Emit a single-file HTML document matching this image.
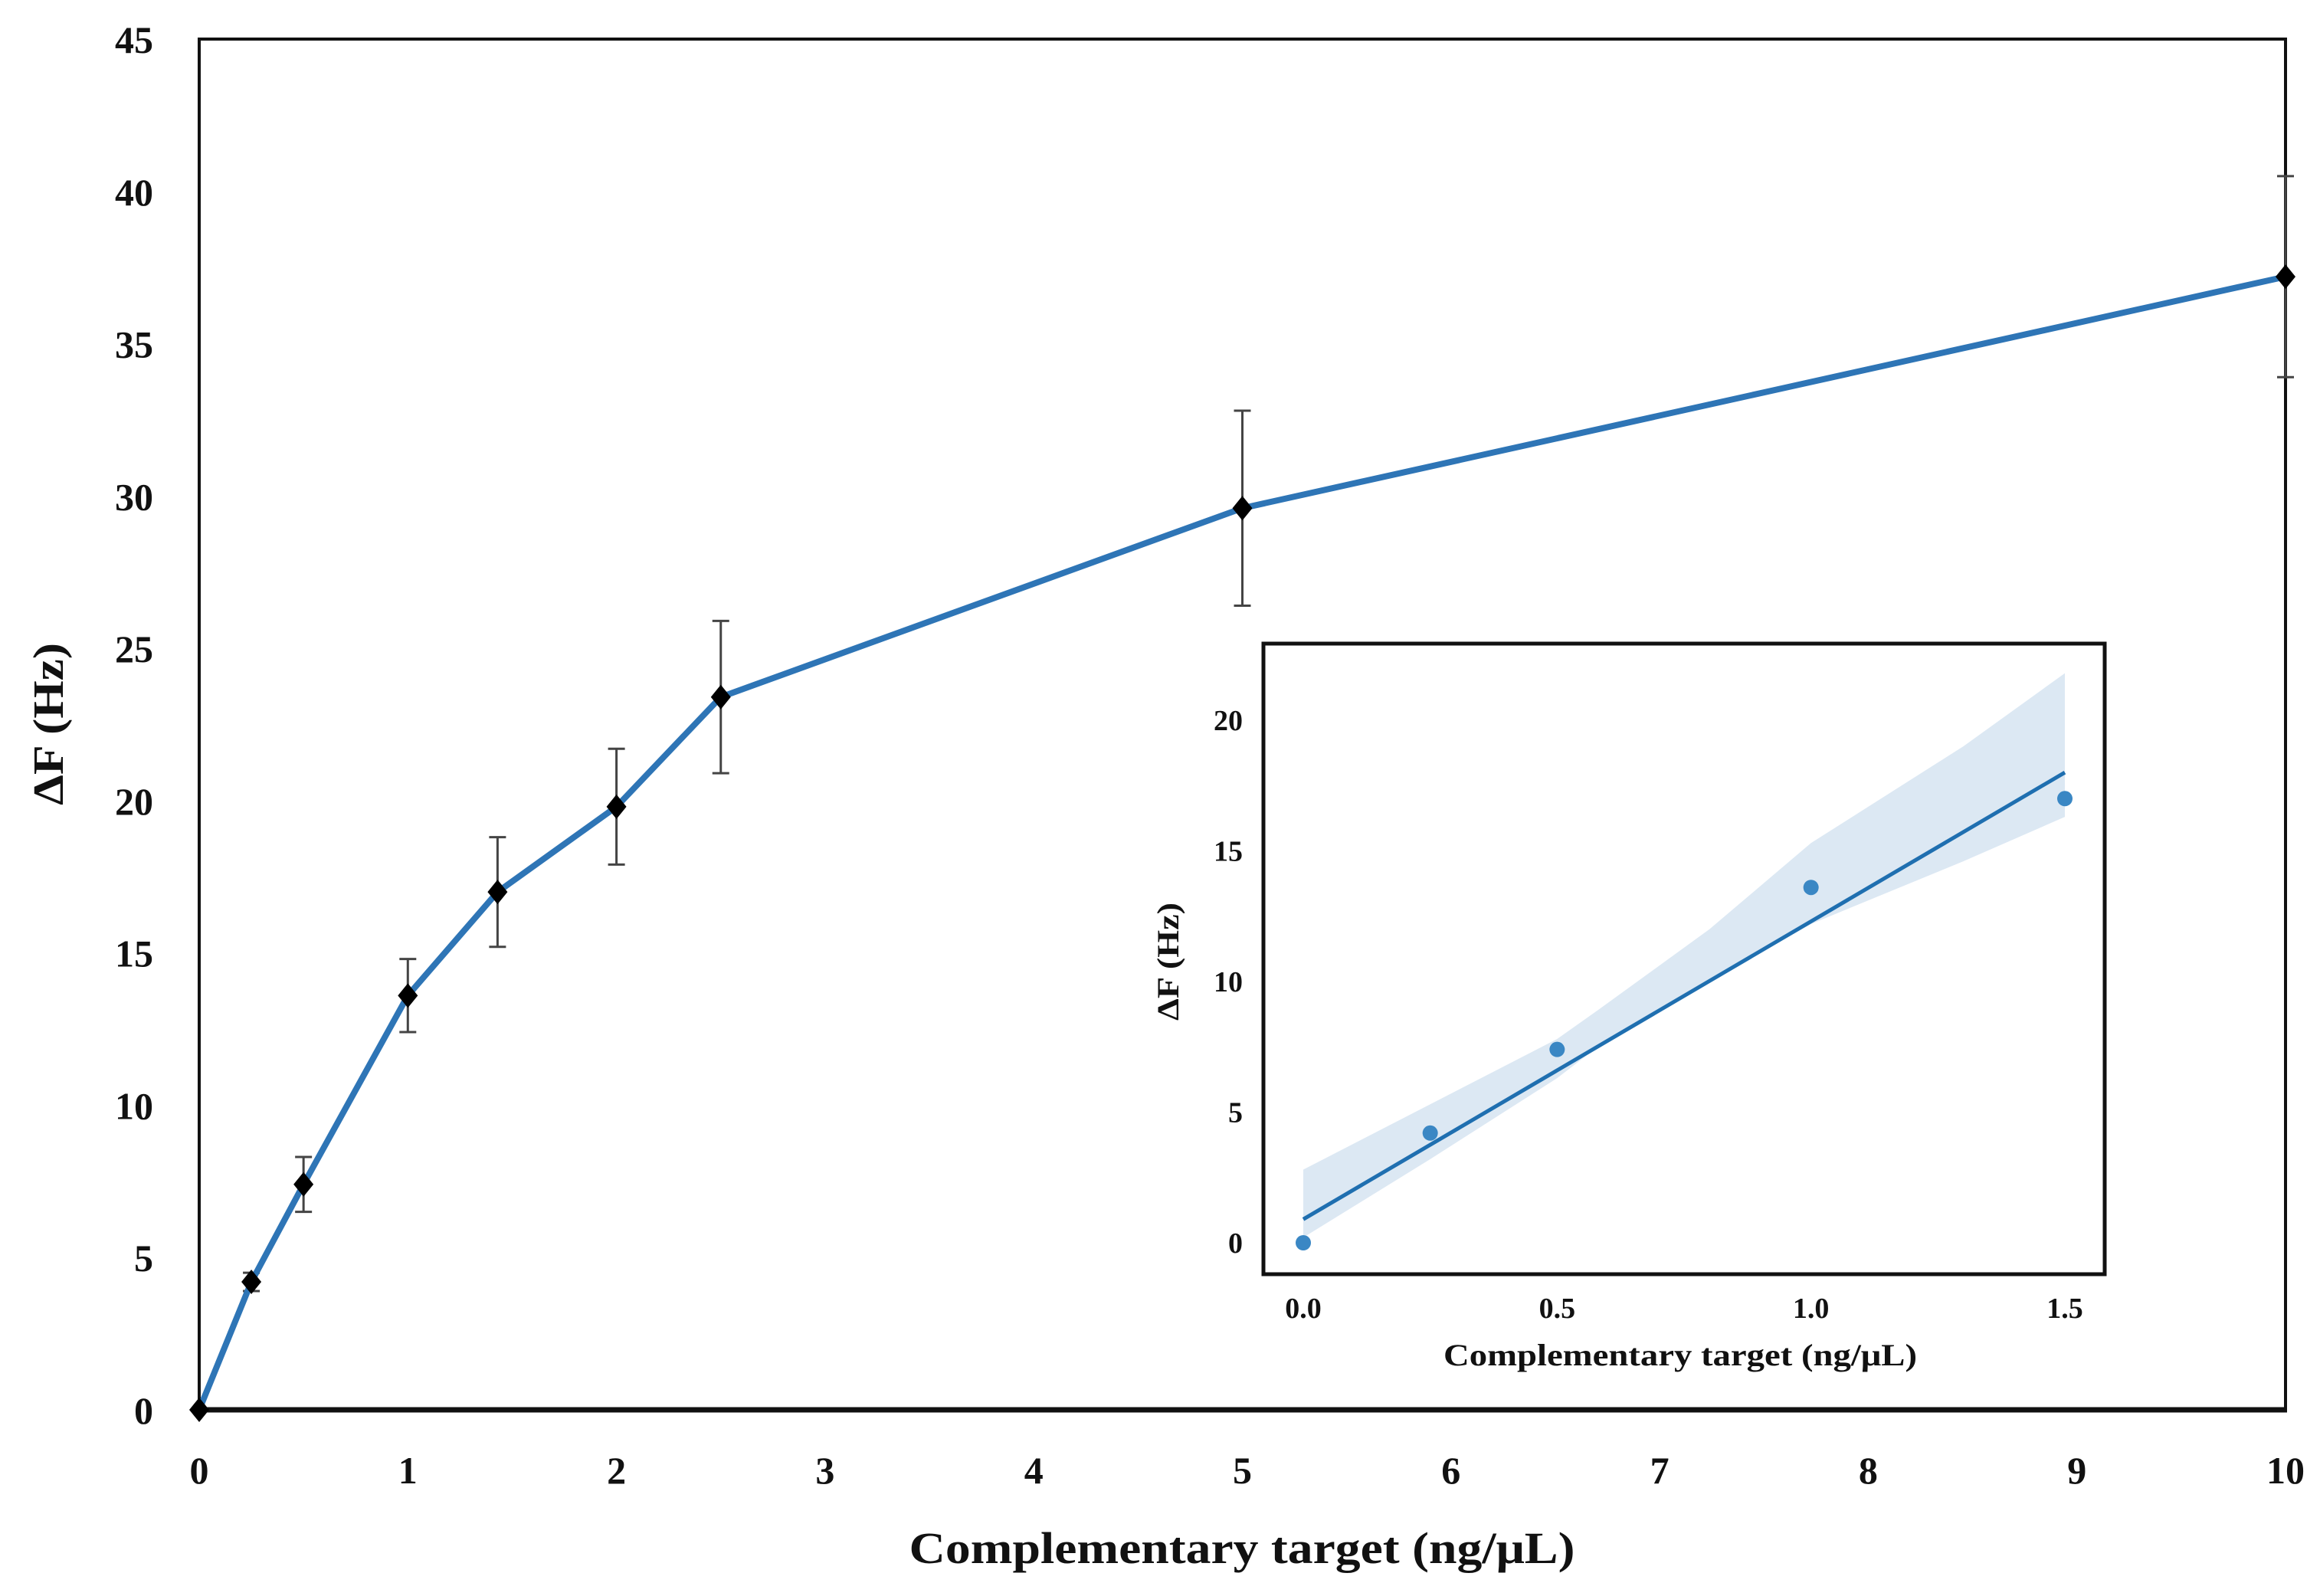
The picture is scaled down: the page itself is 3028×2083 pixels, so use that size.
<!DOCTYPE html>
<html><head><meta charset="utf-8"><style>
html,body{margin:0;padding:0;background:#fff}
svg{display:block}
text{font-family:"Liberation Serif",serif;font-weight:bold;fill:#111}
</style></head><body>
<svg id="c" width="3028" height="2083" viewBox="0 0 3028 2083" xmlns="http://www.w3.org/2000/svg"></svg>
<script>
const mainX=[0,0.25,0.5,1,1.43,2,2.5,5,10];
const mainY=[0,4.2,7.4,13.6,17.0,19.8,23.4,29.6,37.2];
const mainErr=[0,0.3,0.9,1.2,1.8,1.9,2.5,3.2,3.3];
const xTicks=[0,1,2,3,4,5,6,7,8,9,10];
const yTicks=[0,5,10,15,20,25,30,35,40,45];
const insX=[0,0.25,0.5,1.0,1.5];
const insY=[0,4.2,7.4,13.6,17.0];
const fitX=[0,1.5];
const fitY=[0.9,18.0];
const bandX=[0,0.25,0.5,0.58,0.8,1.0,1.3,1.5];
const bandHi=[2.8,5.3,7.8,8.9,12.0,15.3,19.0,21.8];
const bandLo=[0.2,3.2,6.3,7.5,10.0,12.2,14.6,16.3];
const insXTicks=[0,0.5,1.0,1.5];
const insXTickLabels=["0.0","0.5","1.0","1.5"];
const insYTicks=[0,5,10,15,20];

const NS="http://www.w3.org/2000/svg";
const svg=document.getElementById('c');
function el(t,a,p){const e=document.createElementNS(NS,t);for(const k in a)e.setAttribute(k,a[k]);(p||svg).appendChild(e);return e;}
const X=v=>260+(2983-260)*v/10;
const Y=v=>1840-(1840-51)*v/45;
const IX=v=>1701+(2695-1701)*v/1.5;
const IY=v=>1622-(1622-940)*v/20;

// main frame
let e=el('rect',{x:260,y:51,width:2723,height:1789,fill:'none',stroke:'#111','stroke-width':4});

e=el('line',{x1:258,y1:1840,x2:2985,y2:1840,stroke:'#111','stroke-width':7});

yTicks.forEach(v=>{const t=el('text',{x:200,y:Y(v)+18,'text-anchor':'end','font-size':50});t.textContent=v;
});
xTicks.forEach(v=>{const t=el('text',{x:X(v),y:1936,'text-anchor':'middle','font-size':50});t.textContent=v;
});
e=el('text',{x:1621,y:2040,'text-anchor':'middle','font-size':58,textLength:869,lengthAdjust:'spacingAndGlyphs'});e.textContent='Complementary target (ng/μL)';

e=el('text',{x:0,y:0,'text-anchor':'middle','font-size':56,textLength:212,lengthAdjust:'spacingAndGlyphs',transform:'translate(82,945) rotate(-90)'});e.textContent='ΔF (Hz)';


// error bars
mainX.forEach((x,i)=>{if(!mainErr[i])return;const g=el('g',{stroke:'#444','stroke-width':3});

const cx=X(x),t=Y(mainY[i]+mainErr[i]),b=Y(mainY[i]-mainErr[i]);
el('line',{x1:cx,y1:t,x2:cx,y2:b},g);el('line',{x1:cx-11,y1:t,x2:cx+11,y2:t},g);el('line',{x1:cx-11,y1:b,x2:cx+11,y2:b},g);});
e=el('polyline',{points:mainX.map((x,i)=>X(x)+','+Y(mainY[i])).join(' '),fill:'none',stroke:'#2e75b6','stroke-width':8,'stroke-linejoin':'round'});

mainX.forEach((x,i)=>{const cx=X(x),cy=Y(mainY[i]);
const m=el('polygon',{points:`${cx},${cy-16} ${cx+13},${cy} ${cx},${cy+16} ${cx-13},${cy}`,fill:'#000'});
});

// inset
e=el('rect',{x:1649,y:840,width:1098,height:823,fill:'#fff',stroke:'#111','stroke-width':5});

const bp=bandX.map((x,i)=>IX(x)+','+IY(bandHi[i])).concat(bandX.slice().reverse().map((x,j)=>{const i=bandX.length-1-j;return IX(x)+','+IY(bandLo[i]);})).join(' ');
e=el('polygon',{points:bp,fill:'#dce8f3'});

e=el('line',{x1:IX(fitX[0]),y1:IY(fitY[0]),x2:IX(fitX[1]),y2:IY(fitY[1]),stroke:'#1f6fb0','stroke-width':5});

insX.forEach((x,i)=>{const c=el('circle',{cx:IX(x),cy:IY(insY[i]),r:10,fill:'#3a87c4'});
});
insYTicks.forEach(v=>{const t=el('text',{x:1622,y:IY(v)+13,'text-anchor':'end','font-size':38});t.textContent=v;
});
insXTicks.forEach((v,i)=>{const t=el('text',{x:IX(v),y:1720,'text-anchor':'middle','font-size':38});t.textContent=insXTickLabels[i];
});
e=el('text',{x:2193,y:1782,'text-anchor':'middle','font-size':40,textLength:618,lengthAdjust:'spacingAndGlyphs'});e.textContent='Complementary target (ng/μL)';

e=el('text',{x:0,y:0,'text-anchor':'middle','font-size':40,textLength:154,lengthAdjust:'spacingAndGlyphs',transform:'translate(1538,1255) rotate(-90)'});e.textContent='ΔF (Hz)';

</script>
</body></html>
